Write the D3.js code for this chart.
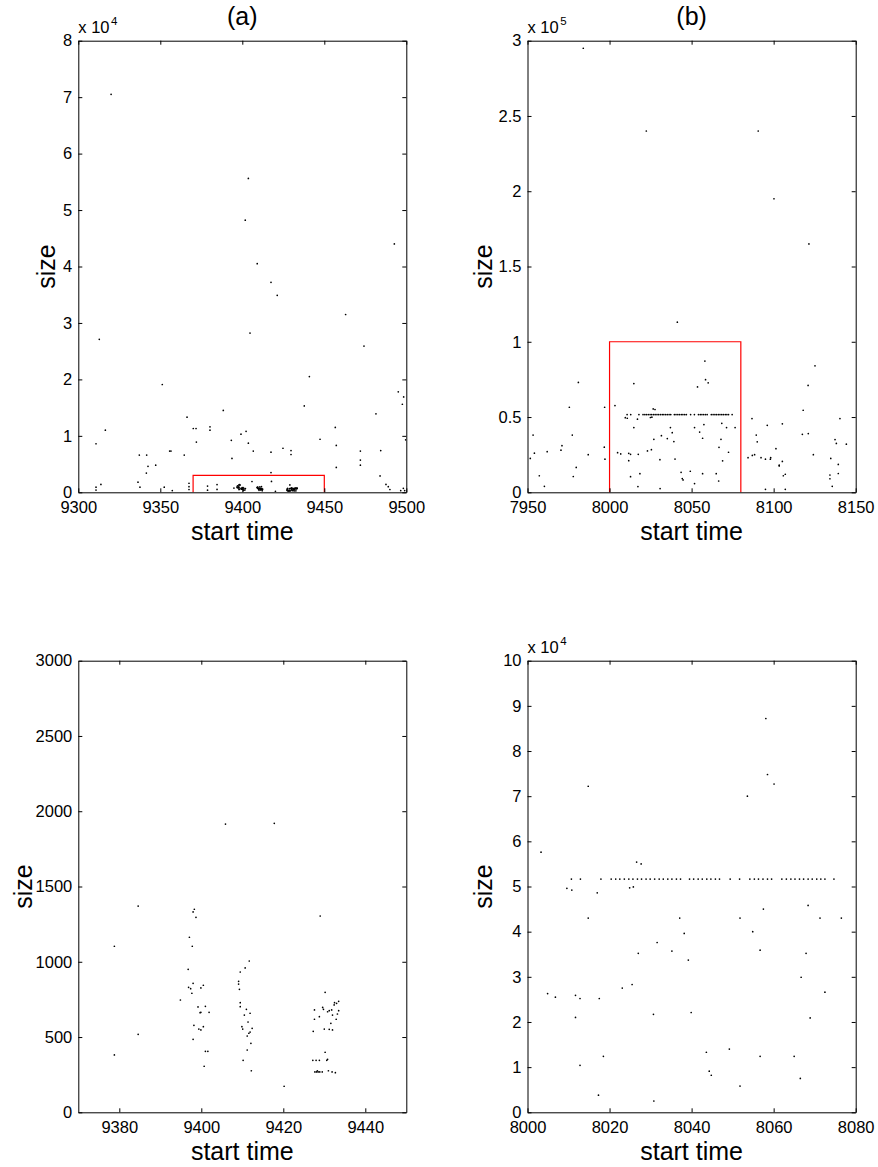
<!DOCTYPE html>
<html><head><meta charset="utf-8">
<script src="https://cdn.jsdelivr.net/npm/d3@7"></script>
<style>
body{margin:0;background:#fff}
svg text{font-family:"Liberation Sans",Arial,Helvetica,sans-serif;fill:#000}
</style></head><body>
<svg id="chart" width="878" height="1167"></svg>
<script>
// ---------- DATA ----------
// Panel (a): jobs outside the zoom box [start time, size]
const panelAOuter = [
[9320,70500],[9403.7,55600],[9401.8,48200],[9492.7,44000],[9409.1,40500],[9417.5,37200],
[9421.3,34900],[9463,31500],[9312.8,27100],[9404.7,28200],[9474.2,25900],[9351.2,19100],
[9440.9,20500],[9495.1,17800],[9498.4,16900],[9497.6,15600],[9437.8,15300],[9388.4,14500],
[9481.5,13900],[9366.3,13300],[9380.3,11600],[9380.3,11000],[9370.1,11300],[9371.8,11300],
[9316.5,11000],[9399.2,10300],[9402.3,10800],[9456.7,11500],[9372,8900],[9393.3,9200],
[9403.7,8700],[9447.4,9400],[9457.3,8300],[9499.6,9300],[9310.8,8600],[9355.7,7300],
[9356.5,7300],[9406.7,7300],[9417.5,7100],[9424.8,7800],[9429.7,7400],[9429.7,6700],
[9472,7300],[9472,5700],[9472,4800],[9484.4,7400],[9337.2,6600],[9341.7,6600],[9364.6,6600],
[9393.7,6000],[9342.5,4600],[9347.2,4800],[9341.5,3400],[9417.5,3500],[9457.3,4400],
[9484,2900],[9336.4,1800],[9337.6,900],[9313.8,1400],[9310.8,900],[9310.8,400],[9352.4,900],
[9357.3,300],[9367.5,1600],[9367.5,1000],[9367.5,500],[9487.6,1400],[9489,1000],[9490,500],
[9496.6,300],[9498.2,700],[9499,300]
];
// Panel (c): jobs inside the box of (a) [start time, size]
const panelCPoints = [
[9378.8,1103],[9378.8,381],[9384.6,1370],[9384.6,518],[9398.3,1349],[9398.0,1331],[9398.7,1295],
[9397.1,1163],[9397.8,1103],[9396.8,950],[9394.9,746],[9396.9,830],[9397.4,821],[9397.7,791],
[9398,857],[9399.9,826],[9400.5,844],[9399.2,700],[9399.7,662],[9399.9,664],[9401,704],
[9401.9,664],[9398.2,578],[9399.4,553],[9399.9,547],[9400.5,569],[9398,485],[9401,405],
[9401.6,405],[9400.7,306],[9409.1,870],[9409.1,852],[9409.3,817],[9409.5,932],[9410.7,959],
[9411.7,1005],[9409.5,728],[9409.5,702],[9410.5,646],[9411,684],[9411.4,600],[9411.9,658],
[9409.9,569],[9410.1,553],[9411.2,507],[9411.6,525],[9411.9,533],[9412.4,558],[9412.1,458],
[9411.2,414],[9410.2,345],[9412.2,276],[9420.2,173],[9405.9,1915],[9417.8,1920],[9429,1304],
[9430.2,797],[9427.6,680],[9427.6,618],[9429.6,697],[9429.8,684],[9428.8,635],[9430.8,668],
[9431.2,675],[9431.8,680],[9432.0,646],[9432.4,713],[9432.5,728],[9433.0,724],[9433.5,737],
[9433.5,675],[9433.2,653],[9432.9,618],[9431.6,591],[9430,553],[9431.2,551],[9432,547],
[9427.3,538],[9430.2,399],[9427.2,345],[9428,345],[9428.8,345],[9430.6,345],[9430.8,352],
[9427.7,268],[9428.1,268],[9428.5,268],[9428.9,268],[9429.5,268],[9428.3,276],[9431,276],
[9431.9,268],[9432.7,263]
];
// Panel (b): jobs outside the zoom box [start time, size]
const panelBOuter = [
[7984,295000],[8022.4,240000],[8090.6,240000],[8100.2,195000],[8121.5,165000],[8041.3,113000],
[8125.2,84000],[7981,73000],[8121,71000],[7975.5,56500],[7997,56500],[8118,54500],[8140.4,49000],
[8086.8,49000],[7953.4,38000],[7977.3,38000],[8089.4,38000],[8117.5,38500],[8121.1,39000],
[8096.1,44500],[8105.3,45500],[8090,33500],[8137.4,35000],[8138.2,32500],[8144.3,32000],
[7971,31000],[7970.4,28000],[7954.2,26000],[7962,27000],[7987,25000],[7996.8,30000],
[7997.2,22000],[7951.7,22500],[8124.2,25000],[8088.4,25000],[8087,24500],[8084.4,23000],
[8092.3,23000],[8098.2,23000],[8098,22000],[8095,22000],[8101.4,29000],[8105.3,20500],
[8103.4,18000],[8103.4,17500],[8105.9,11000],[8107.1,12000],[8107.1,2000],[8095,2000],
[8134.8,22500],[8139.4,18500],[8139.4,12500],[8134.3,11500],[8134.3,9000],[8135.7,4000],
[7957.2,11000],[7979.7,16500],[7977.9,10500],[7960.3,4000]
];
// Panel (d): jobs inside the box of (b) [start time, size]
const panelDPoints = [
[8058.1,87200],[8058.5,74800],[8060.1,72700],[8053.6,70000],[8014.8,72200],[8003.3,57600],
[8026.6,55400],[8027.7,55000],[8009.6,49600],[8010.8,49200],[8024.9,49700],[8025.8,49900],
[8017,48600],[8014.8,43000],[8037.1,43000],[8051.8,43000],[8057.5,45000],[8068.4,45800],
[8071.3,43000],[8076.5,43000],[8038.2,39600],[8054.9,40000],[8031.6,37600],[8027,35200],
[8035.2,35700],[8056.7,35900],[8067.9,35200],[8039.2,33700],[8066.7,29900],[8004.9,26300],
[8006.8,25500],[8011.7,25900],[8012.8,25200],[8017.5,25200],[8023.1,27500],[8025.5,28300],
[8072.5,26600],[8011.7,21000],[8030.7,21700],[8039.9,22100],[8068.9,20900],[8018.5,12400],
[8012.8,10400],[8043.6,13300],[8049.2,14000],[8056.7,12400],[8065,12400],[8044.3,9100],
[8044.8,8200],[8066.5,7500],[8051.8,5800],[8017.3,3800],[8030.8,2500]
];
// Panel (d): the row of equal-size jobs
const rowSize = 51650;
const rowTimes = [8010.7,8012.9,8017.9,8020.4,8021.5,8022.5,8023.6,8024.7,8025.7,8026.8,8027.8,
8028.9,8029.9,8031.0,8032.1,8033.1,8034.2,8035.2,8036.3,8037.3,8039.5,8040.5,8041.6,8042.6,
8043.7,8044.7,8045.8,8046.8,8049.4,8051.7,8054.2,8055.3,8056.3,8057.4,8058.5,8059.5,8062.0,
8063.1,8064.2,8065.2,8066.3,8067.3,8068.4,8069.4,8070.5,8071.5,8072.5,8074.7];

// Ticks
const aXTicks = [9300,9350,9400,9450,9500];
const aYTicks = [0,10000,20000,30000,40000,50000,60000,70000,80000];
const aYLabels = ["0","1","2","3","4","5","6","7","8"];
const bXTicks = [7950,8000,8050,8100,8150];
const bYTicks = [0,50000,100000,150000,200000,250000,300000];
const bYLabels = ["0","0.5","1","1.5","2","2.5","3"];
const cXTicks = [9380,9400,9420,9440];
const cYTicks = [0,500,1000,1500,2000,2500,3000];
const dXTicks = [8000,8020,8040,8060,8080];
const dYTicks = [0,10000,20000,30000,40000,50000,60000,70000,80000,90000,100000];
const dYLabels = ["0","1","2","3","4","5","6","7","8","9","10"];

// Zoom boxes
const boxA = {x:[9370,9450], y:[0,3000]};
const boxB = {x:[8000,8080], y:[0,100000]};

// ---------- DRAW ----------
const svg = d3.select("#chart");
const rowPoints = rowTimes.map(t => [t, rowSize]);

const panels = [
  {id:"a", left:78.3, right:406.3, top:40.7, bottom:492.3, xDomain:[9300,9500], yDomain:[0,80000],
   points: panelAOuter.concat(panelCPoints), xTicks:aXTicks, xLabels:aXTicks.map(String),
   yTicks:aYTicks, yLabels:aYLabels, exp:"4", title:"(a)", box:boxA, ylabX:55},
  {id:"b", left:527.5, right:855.7, top:40.7, bottom:492.3, xDomain:[7950,8150], yDomain:[0,300000],
   points: panelBOuter.concat(panelDPoints, rowPoints), xTicks:bXTicks, xLabels:bXTicks.map(String),
   yTicks:bYTicks, yLabels:bYLabels, exp:"5", title:"(b)", box:boxB, ylabX:492},
  {id:"c", left:78.3, right:406.3, top:660.7, bottom:1112.3, xDomain:[9370,9450], yDomain:[0,3000],
   points: panelCPoints, xTicks:cXTicks, xLabels:cXTicks.map(String),
   yTicks:cYTicks, yLabels:cYTicks.map(String), exp:null, title:null, box:null, ylabX:32},
  {id:"d", left:527.5, right:855.7, top:660.7, bottom:1112.3, xDomain:[8000,8080], yDomain:[0,100000],
   points: panelDPoints.concat(rowPoints), xTicks:dXTicks, xLabels:dXTicks.map(String),
   yTicks:dYTicks, yLabels:dYLabels, exp:"4", title:null, box:null, ylabX:492}
];

panels.forEach(p => {
  const g = svg.append("g");
  const x = d3.scaleLinear().domain(p.xDomain).range([p.left, p.right]);
  const y = d3.scaleLinear().domain(p.yDomain).range([p.bottom, p.top]);

  g.append("clipPath").attr("id","clip-"+p.id).append("rect")
    .attr("x",p.left).attr("y",p.top).attr("width",p.right-p.left).attr("height",p.bottom-p.top);

  g.append("g").attr("clip-path","url(#clip-"+p.id+")")
    .selectAll("circle").data(p.points).join("circle")
    .attr("cx", d => x(d[0])).attr("cy", d => y(d[1])).attr("r", 0.85).attr("fill","#000");

  if (p.box) {
    const bx0 = x(p.box.x[0]), bx1 = x(p.box.x[1]), by0 = y(p.box.y[0]), by1 = y(p.box.y[1]);
    g.append("path").attr("d", d3.line()([[bx0,by0],[bx0,by1],[bx1,by1],[bx1,by0]]))
      .attr("fill","none").attr("stroke","#ff0000").attr("stroke-width",1.2);
  }

  const styleAxis = sel => {
    sel.style("font-size","16.5px");
    sel.selectAll("path.domain").attr("stroke","#000").attr("stroke-width",1);
    sel.selectAll(".tick line").attr("stroke","#000").attr("stroke-width",1);
  };

  g.append("g").attr("transform",`translate(0,${p.bottom})`)
    .call(d3.axisBottom(x).tickValues(p.xTicks).tickFormat((d,i)=>p.xLabels[i])
      .tickSizeInner(-4).tickSizeOuter(0).tickPadding(9)).call(styleAxis);
  g.append("g").attr("transform",`translate(0,${p.top})`)
    .call(d3.axisTop(x).tickValues(p.xTicks).tickFormat("")
      .tickSizeInner(-4).tickSizeOuter(0)).call(styleAxis);
  g.append("g").attr("transform",`translate(${p.left},0)`)
    .call(d3.axisLeft(y).tickValues(p.yTicks).tickFormat((d,i)=>p.yLabels[i])
      .tickSizeInner(-4).tickSizeOuter(0).tickPadding(6)).call(styleAxis);
  g.append("g").attr("transform",`translate(${p.right},0)`)
    .call(d3.axisRight(y).tickValues(p.yTicks).tickFormat("")
      .tickSizeInner(-4).tickSizeOuter(0)).call(styleAxis);

  if (p.exp) {
    g.append("text").attr("x",p.left).attr("y",p.top-7.4)
      .style("font-size","16.5px").text("x 10");
    g.append("text").attr("x",p.left+32.8).attr("y",p.top-15.7)
      .style("font-size","11.5px").text(p.exp);
  }
  if (p.title) {
    g.append("text").attr("x",(p.left+p.right)/2).attr("y",p.top-15.7)
      .attr("text-anchor","middle").style("font-size","25px").text(p.title);
  }
  g.append("text").attr("x",(p.left+p.right)/2).attr("y",p.bottom+47.7)
    .attr("text-anchor","middle").style("font-size","25px").text("start time");
  g.append("text")
    .attr("transform",`translate(${p.ylabX},${(p.top+p.bottom)/2}) rotate(-90)`)
    .attr("text-anchor","middle").style("font-size","25px").text("size");
});
</script>
</body></html>
